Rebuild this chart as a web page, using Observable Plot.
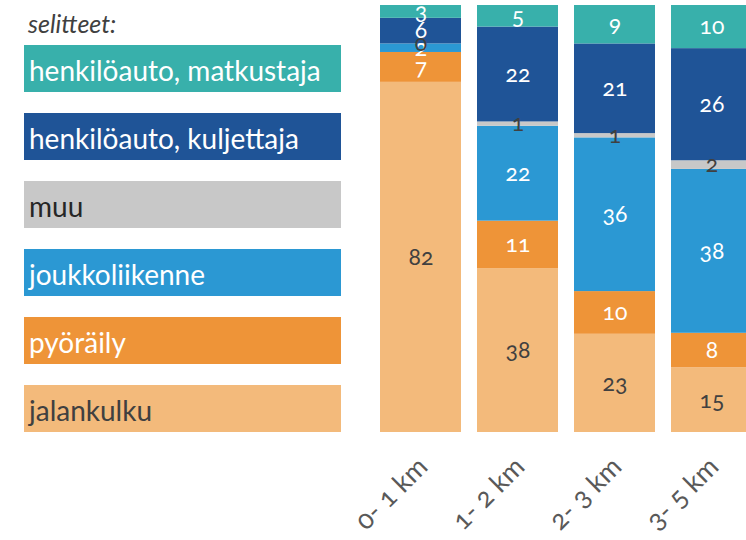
<!DOCTYPE html>
<html><head><meta charset="utf-8">
<script src="https://cdn.jsdelivr.net/npm/d3@7"></script>
<script src="https://cdn.jsdelivr.net/npm/@observablehq/plot@0.6"></script>
<style>
html,body{margin:0;padding:0;background:#fff;overflow:hidden}
#wrap{position:relative;width:746px;height:540px;font-family:Lato,"Open Sans",sans-serif;overflow:hidden}
#wrap svg{position:absolute;left:0;top:0}
#wrap svg text{font-variant-numeric:oldstyle-nums}
.ltitle{position:absolute;left:28px;top:8px;font-size:25px;font-style:italic;color:#404040;line-height:30px}
.lbox{position:absolute;left:24px;width:317px;height:47px;box-sizing:border-box;padding-left:5px;padding-top:2px;font-size:28px;line-height:47px;white-space:nowrap}
</style></head><body><div id="wrap"></div>
<script>
const categories = ["0- 1 km","1- 2 km","2- 3 km","3- 5 km"];
const modes = ["jalankulku","pyöräily","joukkoliikenne","muu","henkilöauto, kuljettaja","henkilöauto, matkustaja"];
const modeColors = ["#F3BA7B","#EE9438","#2B98D3","#C8C8C8","#1F5497","#38B0AB"];
const textColors = ["#404040","#ffffff","#ffffff","#262626","#ffffff","#ffffff"];
const jalankulku = [82,38,23,15];
const pyoraily = [7,11,10,8];
const joukkoliikenne = [2,22,36,38];
const muu = [0,1,1,2];
const kuljettaja = [6,22,21,26];
const matkustaja = [3,5,9,10];
const legendTitle = "selitteet:";

const seriesValues = [jalankulku, pyoraily, joukkoliikenne, muu, kuljettaja, matkustaja];
const data = [];
categories.forEach((c, i) => {
  modes.forEach((m, j) => data.push({cat: c, mode: m, value: seriesValues[j][i], dark: textColors[j] !== "#ffffff"}));
});

const stack = {x: "cat", y: "value", z: "mode", order: modes, offset: "normalize"};

const chart = Plot.plot({
  width: 746, height: 540,
  marginTop: 5, marginBottom: 108, marginLeft: 0, marginRight: 0,
  style: {fontFamily: "Lato, 'Open Sans', sans-serif", background: "transparent"},
  x: {domain: categories, range: [379, 752], paddingInner: 0.167, paddingOuter: 0},
  y: {domain: [0, 1], axis: null},
  color: {domain: modes, range: modeColors},
  marks: [
    Plot.barY(data, Plot.stackY({...stack, fill: "mode"})),
    Plot.text(data, Plot.stackY({...stack, text: d => d.dark ? "" : String(d.value), fill: "#ffffff", fontSize: 23})),
    Plot.text(data, Plot.stackY({...stack, text: d => d.dark ? String(d.value) : "", fill: "#404040", fontSize: 23})),
    Plot.axisX({tickRotate: -45, tickSize: 0, tickPadding: 30, dx: 2, fontSize: 27, fill: "#595959", label: null})
  ]
});

const wrap = document.getElementById("wrap");
wrap.appendChild(chart);

const t = document.createElement("div");
t.className = "ltitle";
t.textContent = legendTitle;
wrap.appendChild(t);

const legendOrder = [5, 4, 3, 2, 1, 0];
legendOrder.forEach((j, k) => {
  const b = document.createElement("div");
  b.className = "lbox";
  b.style.top = (45 + k * 68) + "px";
  b.style.background = modeColors[j];
  b.style.color = textColors[j];
  b.textContent = modes[j];
  wrap.appendChild(b);
});
</script>
</body></html>
